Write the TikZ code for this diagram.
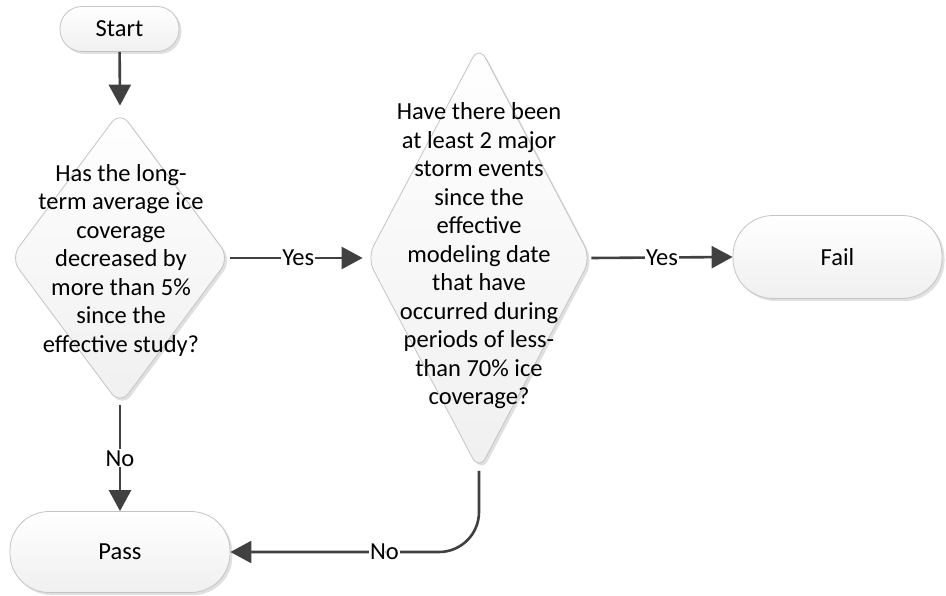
\documentclass[tikz,border=0pt]{standalone}
\usepackage{fontspec}
\setmainfont{Carlito}
\usetikzlibrary{arrows.meta,shapes.geometric,shadows}
\definecolor{edgegray}{HTML}{C4C4C4}
\definecolor{ink}{HTML}{404040}
\begin{document}
\begin{tikzpicture}[x=1pt,y=-1pt,
  font=\fontsize{24.5}{28.5}\selectfont,
  boxshade/.style={draw=edgegray, line width=0.8pt, top color=white, bottom color=black!6,
    drop shadow={shadow xshift=2.5pt, shadow yshift=-2.5pt, fill=black!12, opacity=1}},
  terminal/.style={boxshade, rectangle, inner sep=0pt},
  decision/.style={boxshade, diamond, inner sep=0pt, rounded corners=14pt},
  qtext/.style={align=center, inner sep=0pt},
  flow/.style={draw=ink, line width=2.6pt, -{Triangle[length=21pt,width=22pt]}},
  tag/.style={fill=white, inner sep=1pt, text=black}]
\useasboundingbox (0,0) rectangle (946,596);

% terminals and decisions
\node[terminal, minimum width=119pt, minimum height=45pt, rounded corners=22pt] (start) at (119.5,29) {Start};
\node[decision, minimum width=219pt, minimum height=294pt] (q1) at (120,258) {};
\node[qtext] at (121,260) {Has the long-\\term average ice\\coverage\\decreased by\\more than 5\%\\since the\\effective study?};
\node[decision, minimum width=224pt, minimum height=425pt] (q2) at (479,258) {};
\node[qtext] at (479,256) {Have there been\\at least 2 major\\storm events\\since the\\effective\\modeling date\\that have\\occurred during\\periods of less-\\than 70\% ice\\coverage?};
\node[terminal, minimum width=209pt, minimum height=83pt, rounded corners=40pt] (fail) at (837.5,257) {Fail};
\node[terminal, minimum width=220pt, minimum height=81pt, rounded corners=39pt] (pass) at (120,552) {Pass};

% connectors
\draw[flow, shorten >=5pt] (start) -- (q1.north);
\draw[flow, shorten >=4pt] (q1.east) -- node[tag] {Yes} (q2.west);
\draw[flow] (q2.east) -- node[tag] {Yes} (fail.west);
\draw[flow] (q1.south) -- node[tag] {No} (pass.north);
\draw[flow, rounded corners=40pt] (q2.south) |- node[tag, pos=0.69] {No} (pass.east);
\end{tikzpicture}
\end{document}
